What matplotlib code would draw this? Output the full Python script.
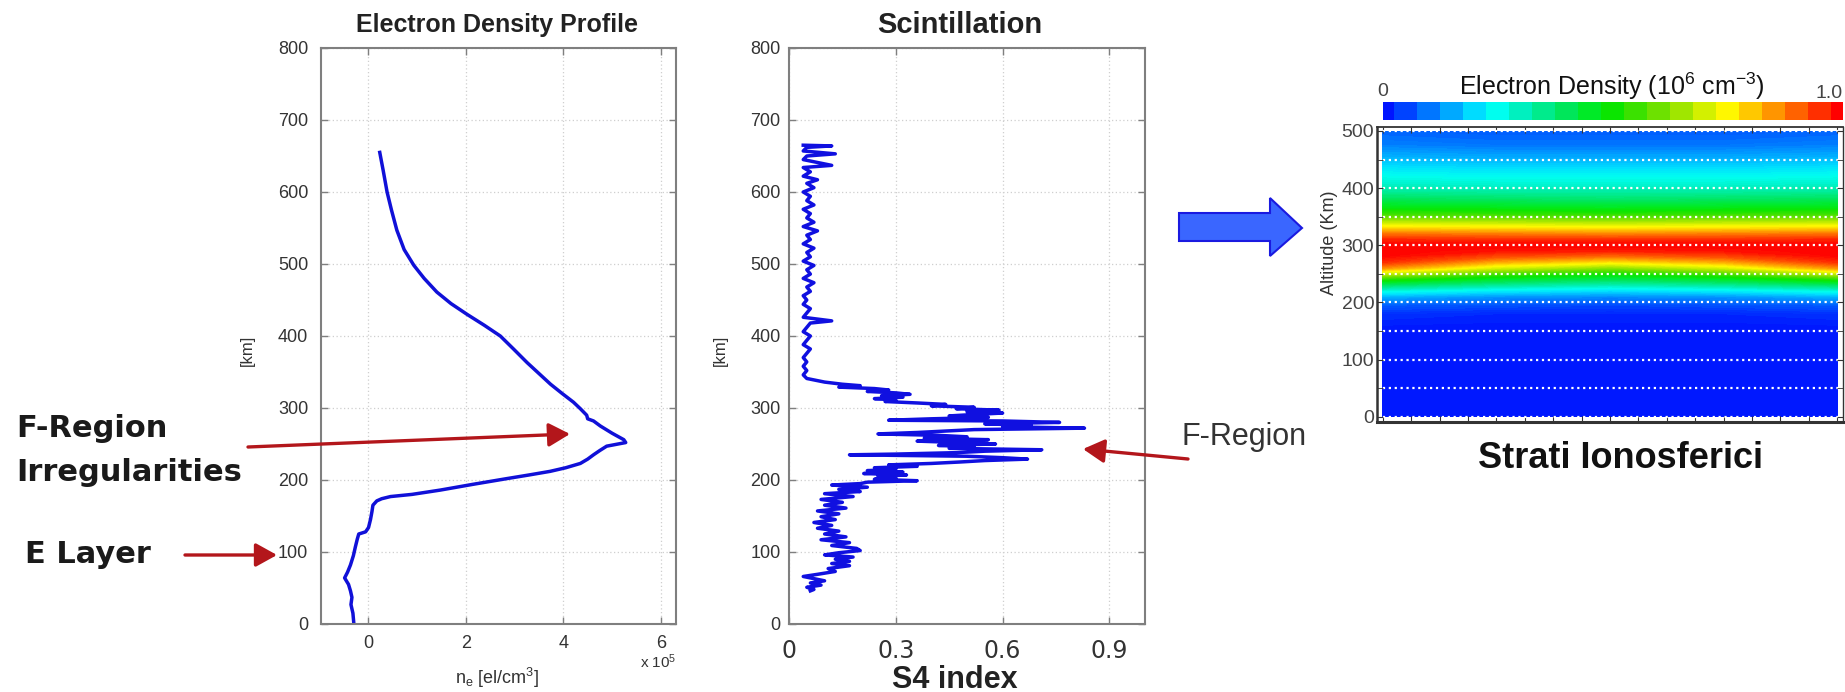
import numpy as np
import matplotlib.pyplot as plt
from matplotlib.colors import LinearSegmentedColormap
from matplotlib.patches import FancyArrowPatch, Polygon

W, H = 1845, 692

plt.rcParams['font.family'] = ['Liberation Sans', 'DejaVu Sans']
plt.rcParams['mathtext.fontset'] = 'custom'
plt.rcParams['mathtext.rm'] = 'Liberation Sans'
plt.rcParams['mathtext.it'] = 'Liberation Sans'
plt.rcParams['mathtext.bf'] = 'Liberation Sans:bold'
plt.rcParams['mathtext.default'] = 'regular'

NARROW = ['Liberation Sans Narrow', 'Liberation Sans']

# electron density profile, altitude [km] vs n_e [x 1e5 el/cm^3]
ne_alt = [0, 15, 27, 37, 46, 55, 64, 72, 82, 95, 107, 118, 125, 128, 134, 145,
          156, 165, 171, 174, 177, 180, 186, 194, 202, 207, 212, 217, 223, 229,
          235, 241, 247, 252, 256, 265, 275, 282, 285, 290, 299, 308, 320, 333,
          348, 363, 382, 400, 415, 430, 445, 461, 480, 498, 520, 547, 575, 600,
          630, 655]
ne_val = [-0.29, -0.31, -0.35, -0.33, -0.36, -0.40, -0.48, -0.42, -0.36, -0.30,
          -0.26, -0.22, -0.19, -0.05, 0.01, 0.05, 0.08, 0.10, 0.18, 0.28, 0.46,
          0.90, 1.48, 2.15, 2.85, 3.30, 3.73, 4.05, 4.35, 4.50, 4.62, 4.75,
          4.89, 5.28, 5.24, 5.00, 4.76, 4.62, 4.50, 4.48, 4.35, 4.21, 3.98,
          3.74, 3.50, 3.26, 2.98, 2.71, 2.38, 2.03, 1.70, 1.41, 1.15, 0.94,
          0.74, 0.59, 0.48, 0.39, 0.31, 0.24]

# S4 scintillation index profile
s4_alt = [665, 664, 662, 657, 653, 650, 645, 640, 637, 634, 628, 622, 617, 612,
          606, 600, 594, 588, 582, 576, 570, 564, 558, 552, 546, 540, 534, 528,
          522, 516, 510, 504, 498, 492, 486, 480, 474, 468, 462, 456, 450, 444,
          438, 432, 426, 421, 418, 412, 406, 400, 394, 388, 382, 376, 370, 364,
          358, 352, 346, 341, 336, 333, 331, 329, 327, 325, 323, 321, 319, 317,
          315, 313, 311, 309, 307, 305, 303, 301, 299, 297, 295, 293, 291, 289,
          287, 285, 283, 282, 280, 278, 276, 274, 272, 270, 268, 266, 264, 262,
          260, 258, 256, 254, 252, 250, 248, 246, 244, 242, 240, 238, 236, 235,
          233, 231, 229, 227, 225, 223, 221, 219, 217, 215, 213, 211, 209, 207,
          205, 203, 201, 199, 197, 195, 193, 190, 187, 184, 181, 177, 173, 169,
          165, 161, 157, 153, 149, 145, 141, 137, 133, 129, 125, 121, 117, 113,
          109, 105, 102, 99, 96, 93, 90, 87, 84, 81, 77, 73, 69, 66, 63, 60,
          57, 54, 51, 48, 46]
s4_val = [0.04, 0.12, 0.05, 0.04, 0.13, 0.05, 0.04, 0.09, 0.12, 0.04, 0.06,
          0.04, 0.08, 0.05, 0.07, 0.04, 0.06, 0.05, 0.07, 0.04, 0.06, 0.05,
          0.07, 0.04, 0.08, 0.05, 0.06, 0.04, 0.07, 0.05, 0.06, 0.04, 0.07,
          0.05, 0.06, 0.04, 0.07, 0.05, 0.06, 0.04, 0.05, 0.04, 0.06, 0.05,
          0.04, 0.12, 0.06, 0.05, 0.04, 0.06, 0.05, 0.04, 0.06, 0.05, 0.04,
          0.05, 0.04, 0.05, 0.04, 0.05, 0.10, 0.15, 0.20, 0.14, 0.24, 0.28,
          0.22, 0.30, 0.34, 0.26, 0.32, 0.24, 0.30, 0.27, 0.36, 0.44, 0.40,
          0.52, 0.47, 0.59, 0.50, 0.60, 0.52, 0.45, 0.56, 0.40, 0.28, 0.60,
          0.76, 0.55, 0.68, 0.60, 0.83, 0.52, 0.44, 0.36, 0.25, 0.42, 0.50,
          0.38, 0.56, 0.36, 0.48, 0.58, 0.42, 0.52, 0.45, 0.71, 0.55, 0.47,
          0.30, 0.17, 0.50, 0.60, 0.67, 0.55, 0.48, 0.40, 0.28, 0.36, 0.24,
          0.30, 0.22, 0.32, 0.21, 0.33, 0.25, 0.30, 0.24, 0.36, 0.22, 0.20,
          0.12, 0.22, 0.14, 0.20, 0.10, 0.18, 0.09, 0.15, 0.10, 0.16, 0.08,
          0.14, 0.09, 0.13, 0.07, 0.12, 0.08, 0.14, 0.10, 0.16, 0.09, 0.17,
          0.12, 0.19, 0.20, 0.14, 0.10, 0.18, 0.13, 0.17, 0.12, 0.17, 0.11,
          0.13, 0.08, 0.04, 0.07, 0.10, 0.06, 0.09, 0.05, 0.07, 0.06]

# layer map: density (1e6 cm^-3) at each altitude row for each horizontal column
layer_x = [0, 4, 8, 12, 16]
layer_alt = [0, 150, 180, 195, 210, 220, 230, 240, 250, 260, 270, 280, 290, 300,
             310, 320, 330, 340, 350, 365, 380, 400, 425, 450, 475, 500]
edge_col = [0.0, 0.0, 0.03, 0.07, 0.16, 0.26, 0.38, 0.52, 0.68, 0.85, 0.95,
            0.99, 1.0, 1.0, 0.96, 0.88, 0.78, 0.68, 0.58, 0.48, 0.40, 0.31,
            0.24, 0.17, 0.11, 0.08]
quarter_col = [0.0, 0.0, 0.02, 0.06, 0.13, 0.22, 0.33, 0.44, 0.56, 0.70, 0.82,
               0.92, 0.98, 1.0, 0.95, 0.87, 0.77, 0.67, 0.57, 0.47, 0.39, 0.30,
               0.23, 0.16, 0.10, 0.07]
center_col = [0.0, 0.0, 0.02, 0.05, 0.12, 0.20, 0.30, 0.40, 0.50, 0.62, 0.76,
              0.88, 0.97, 1.0, 0.95, 0.86, 0.76, 0.66, 0.56, 0.46, 0.38, 0.30,
              0.23, 0.16, 0.10, 0.07]
layer_cols = [edge_col, quarter_col, center_col, quarter_col, edge_col]

cbar_colors = ['#0014ff', '#0046ff', '#0078ff', '#00aaff', '#00dcff', '#00fff0',
               '#00f0be', '#00eb8c', '#00e65a', '#00eb28', '#0ae600', '#3ce100',
               '#6ee100', '#a0e600', '#d2f000', '#fffa00', '#ffc800', '#ff9600',
               '#ff6400', '#ff3200', '#ff0000']


def fx(px):
    return px / W


def fy(py):
    return 1 - py / H


def matlab_axes(ax):
    for s in ax.spines.values():
        s.set_color('#7f7f7f')
        s.set_linewidth(1.5)
    ax.tick_params(direction='in', length=5, width=1, color='#7f7f7f',
                   top=True, right=True, labelcolor='#333333', labelsize=13)
    ax.grid(True, color='#cfcfcf', linestyle=(0, (1, 2)), linewidth=0.9)
    ax.set_ylim(0, 800)
    ax.set_yticks(range(0, 801, 100))


fig = plt.figure(figsize=(W / 100, H / 100), dpi=100)

# left: electron density profile
ax1 = fig.add_axes([fx(320.7), fy(624), (676 - 320.7) / W, 576 / H])
matlab_axes(ax1)
ax1.plot(ne_val, ne_alt, color='#1010d8', lw=2.5)
ax1.set_xlim(-0.97, 6.31)
ax1.set_xticks([0, 2, 4, 6])
ax1.tick_params(axis='x', pad=8)
ax1.tick_params(axis='y', pad=9)
fig.text(fx(497), fy(32), 'Electron Density Profile', ha='center',
         va='baseline', fontsize=18, fontweight='bold', color='#222222')
fig.text(fx(497), fy(684), 'n$_e$ [el/cm$^3$]', ha='center', va='baseline',
         fontsize=13, color='#333333')
fig.text(fx(640), fy(668), 'x 10$^5$', ha='left', va='baseline',
         fontsize=11, color='#333333')
fig.text(fx(247), fy(350), '[km]', rotation=90, ha='center', va='center',
         fontsize=12, color='#333333')

# middle: scintillation S4 profile
ax2 = fig.add_axes([fx(789), fy(624), (1145 - 789) / W, 576 / H])
matlab_axes(ax2)
ax2.plot(s4_val, s4_alt, color='#1010e0', lw=2.5)
ax2.set_xlim(0, 1.0)
ax2.set_xticks([0, 0.3, 0.6, 0.9])
ax2.set_xticklabels(['0', '0.3', '0.6', '0.9'], fontsize=17,
                    family='DejaVu Sans')
ax2.tick_params(axis='x', pad=11)
ax2.tick_params(axis='y', pad=6)
fig.text(fx(960), fy(33), 'Scintillation', ha='center', va='baseline',
         fontsize=21, fontweight='bold', color='#222222')
fig.text(fx(955), fy(688), 'S4 index', ha='center', va='baseline',
         fontsize=22, fontweight='bold', color='#222222')
fig.text(fx(720), fy(350), '[km]', rotation=90, ha='center', va='center',
         fontsize=12, color='#333333')

# right: ionospheric layers map with colour scale
cmap = LinearSegmentedColormap.from_list('iono', cbar_colors)
ax3 = fig.add_axes([fx(1377), fy(422), (1843 - 1377) / W, (422 - 127) / H])
Z = np.array(layer_cols).T
ax3.contourf(layer_x, layer_alt, Z, levels=np.linspace(0, 1, 101),
             cmap=cmap, vmin=0, vmax=1)
ax3.set_xlim(-0.21, 16.21)
ax3.set_ylim(-9.3, 507)
ax3.set_xticks(range(17))
ax3.set_xticklabels([])
ax3.set_yticks(range(0, 501, 100))
ax3.set_yticks(range(50, 500, 100), minor=True)
ax3.set_yticklabels([str(v) for v in range(0, 501, 100)], family=NARROW,
                    fontsize=14, color='#444444')
ax3.tick_params(which='both', direction='in', length=4, color='#333333',
                top=True, right=True, pad=2)
ax3.grid(True, axis='y', which='both', color='white', linestyle=':',
         linewidth=1.6)
for side, lw in (('left', 1.8), ('bottom', 2.2), ('top', 1.3), ('right', 1.0)):
    ax3.spines[side].set_linewidth(lw)
    ax3.spines[side].set_color('#333333')
fig.text(fx(1329), fy(243), 'Altitude (Km)', rotation=90, ha='center',
         va='center', fontsize=13, family=NARROW, color='#333333')
fig.text(fx(1620), fy(468), 'Strati Ionosferici', ha='center', va='baseline',
         fontsize=26, fontweight='bold', color='#111111')

cax = fig.add_axes([fx(1383), fy(120), (1843 - 1383) / W, 18.3 / H])
steps = np.linspace(0, 1, len(cbar_colors))
cax.imshow([steps], cmap=cmap, vmin=0, vmax=1, aspect='auto',
           interpolation='nearest', extent=(-0.025, 1.025, 0, 1))
cax.set_xlim(0, 1)
cax.axis('off')
fig.text(fx(1383), fy(96), '0', ha='center', va='baseline', fontsize=14,
         family=NARROW, color='#444444')
fig.text(fx(1843), fy(98), '1.0', ha='right', va='baseline', fontsize=14,
         family=NARROW, color='#444444')
fig.text(fx(1612), fy(95), 'Electron Density (10$^6$ cm$^{-3}$)', ha='center',
         va='baseline', fontsize=18, color='#111111')

# side annotations
label_kw = dict(fontsize=22, fontweight='bold', color='#1a1a1a',
                family='DejaVu Sans', va='baseline', ha='left')
fig.text(fx(16), fy(437), 'F-Region', **label_kw)
fig.text(fx(16), fy(481), 'Irregularities', **label_kw)
fig.text(fx(25), fy(563), 'E Layer', **label_kw)
fig.text(fx(1181), fy(445), 'F-Region', ha='left', va='baseline',
         fontsize=22, color='#333333')

arrow_style = '-|>,head_length=0.65,head_width=0.36'
for (x0, y0), (x1, y1) in (((248, 447), (570, 434)),
                           ((185, 555), (277, 555)),
                           ((1188, 459), (1083, 449))):
    fig.add_artist(FancyArrowPatch((fx(x0), fy(y0)), (fx(x1), fy(y1)),
                                   transform=fig.transFigure,
                                   arrowstyle=arrow_style, mutation_scale=20,
                                   color='#b3161b', lw=2.4,
                                   shrinkA=0, shrinkB=0))

# block arrow pointing at the layer map
block = [(1179, 213), (1270, 213), (1270, 198), (1302, 228), (1270, 256),
         (1270, 241), (1179, 241)]
fig.add_artist(Polygon([(fx(x), fy(y)) for x, y in block], closed=True,
                       transform=fig.transFigure, facecolor='#3a66ff',
                       edgecolor='#1a1ae0', lw=1.5))

fig.savefig('out.png', dpi=100)
